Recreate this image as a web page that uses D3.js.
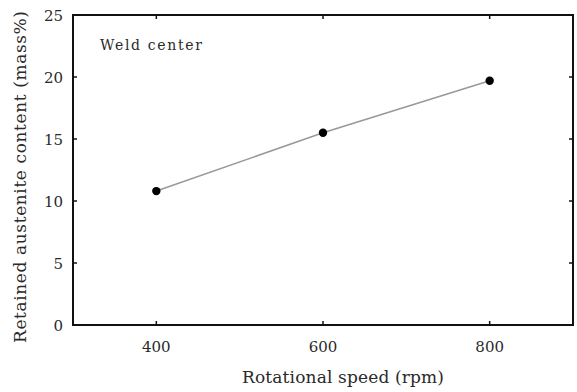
<!DOCTYPE html>
<html><head><meta charset="utf-8">
<script src="https://cdn.jsdelivr.net/npm/d3@7"></script>
<style>body{margin:0;background:#fff}svg{display:block}</style>
</head><body>
<script>
const speeds = [400, 600, 800];
const austenite = [10.8, 15.5, 19.7];
const xTicks = [400, 600, 800];
const yTicks = [0, 5, 10, 15, 20, 25];

const W = 577, H = 392;
const m = {left: 73, top: 15, right: 4, bottom: 67};
const svg = d3.select("body").append("svg").attr("width", W).attr("height", H);
const x = d3.scaleLinear().domain([300, 900]).range([m.left, W - m.right]);
const y = d3.scaleLinear().domain([0, 25]).range([H - m.bottom, m.top]);
const font = "'DejaVu Serif', 'Liberation Serif', serif";
const txt = "#2a2a2a";

const g = svg.append("g");
const tickLen = 4;
g.selectAll(".xb").data(xTicks).enter().append("line")
  .attr("x1", d => x(d)).attr("x2", d => x(d))
  .attr("y1", y(0)).attr("y2", y(0) - tickLen).attr("stroke", "#111").attr("stroke-width", 1.5);
g.selectAll(".xt").data(xTicks).enter().append("line")
  .attr("x1", d => x(d)).attr("x2", d => x(d))
  .attr("y1", y(25)).attr("y2", y(25) + tickLen).attr("stroke", "#111").attr("stroke-width", 1.5);
g.selectAll(".yl").data(yTicks.slice(1, -1)).enter().append("line")
  .attr("x1", x(300)).attr("x2", x(300) + tickLen)
  .attr("y1", d => y(d)).attr("y2", d => y(d)).attr("stroke", "#111").attr("stroke-width", 1.5);
g.selectAll(".yr").data(yTicks.slice(1, -1)).enter().append("line")
  .attr("x1", x(900)).attr("x2", x(900) - tickLen)
  .attr("y1", d => y(d)).attr("y2", d => y(d)).attr("stroke", "#111").attr("stroke-width", 1.5);

svg.append("rect").attr("x", x(300)).attr("y", y(25))
  .attr("width", x(900) - x(300)).attr("height", y(0) - y(25))
  .attr("fill", "none").attr("stroke", "#111").attr("stroke-width", 2);

svg.selectAll(".xlab").data(xTicks).enter().append("text")
  .attr("x", d => x(d)).attr("y", y(0) + 27).attr("text-anchor", "middle")
  .attr("font-family", font).attr("font-size", 15).attr("fill", txt).text(d => d);
svg.selectAll(".ylab").data(yTicks).enter().append("text")
  .attr("x", 63).attr("y", d => y(d) + 5.5).attr("text-anchor", "end")
  .attr("font-family", font).attr("font-size", 15).attr("fill", txt).text(d => d);

svg.append("text").attr("x", 343).attr("y", 383).attr("text-anchor", "middle")
  .attr("font-family", font).attr("font-size", 17).attr("fill", txt)
  .attr("textLength", 202).attr("lengthAdjust", "spacing")
  .text("Rotational speed (rpm)");
svg.append("text").attr("transform", `translate(26, 177) rotate(-90)`)
  .attr("text-anchor", "middle")
  .attr("font-family", font).attr("font-size", 17).attr("fill", txt)
  .attr("textLength", 332).attr("lengthAdjust", "spacing")
  .text("Retained austenite content (mass%)");

svg.append("text").attr("x", 100).attr("y", 50)
  .attr("font-family", font).attr("font-size", 14).attr("fill", txt)
  .attr("textLength", 102).attr("lengthAdjust", "spacing").text("Weld center");

const data = speeds.map((s, i) => ({s, v: austenite[i]}));
svg.append("path").datum(data)
  .attr("d", d3.line().x(d => x(d.s)).y(d => y(d.v)))
  .attr("fill", "none").attr("stroke", "#999").attr("stroke-width", 1.6);
svg.selectAll(".pt").data(data).enter().append("circle")
  .attr("cx", d => x(d.s)).attr("cy", d => y(d.v)).attr("r", 4.2).attr("fill", "#000");
</script>
</body></html>
